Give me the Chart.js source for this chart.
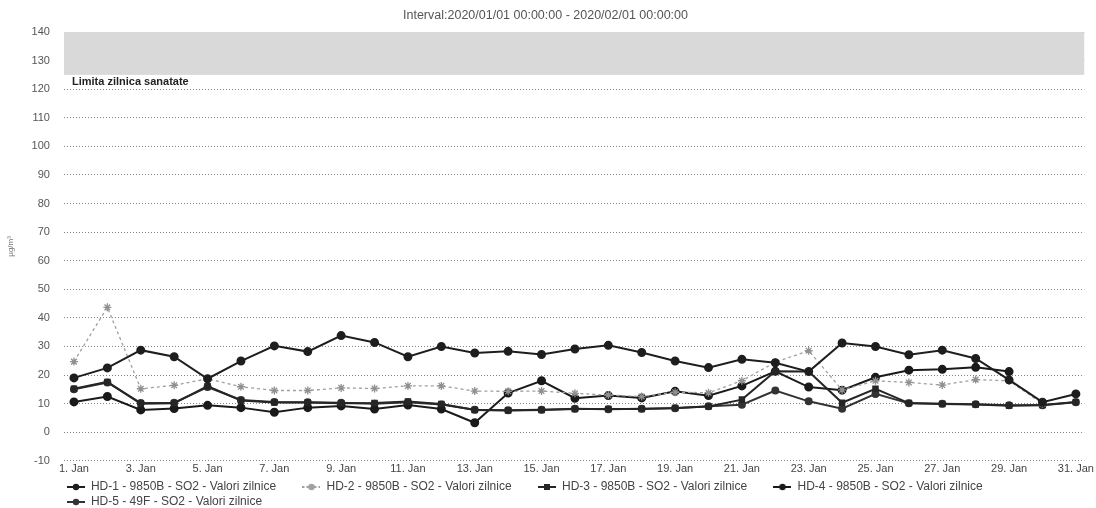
<!DOCTYPE html>
<html>
<head>
<meta charset="utf-8">
<script src="https://cdn.jsdelivr.net/npm/chart.js@4.4.0/dist/chart.umd.min.js"></script>
<style>
  html, body { margin:0; padding:0; background:#fff; }
  #wrap { width:1096px; height:508px; }
</style>
</head>
<body>
<div id="wrap"><canvas id="chart"></canvas></div>
<script>
// days of January 2020
const days = [1,2,3,4,5,6,7,8,9,10,11,12,13,14,15,16,17,18,19,20,21,22,23,24,25,26,27,28,29,30,31];
const tickDays = [1,3,5,7,9,11,13,15,17,19,21,23,25,27,29,31];
const yTicks = [-10,0,10,20,30,40,50,60,70,80,90,100,110,120,130,140];

// SO2 daily values (ug/m3)
const hd1 = [19.0,22.5,28.7,26.4,18.7,24.9,30.2,28.2,33.8,31.4,26.4,30.0,27.7,28.3,27.2,29.1,30.4,27.9,24.9,22.6,25.5,24.3,21.2,31.2,30.0,27.1,28.7,25.8,18.3,10.5,13.4];
const hd2 = [24.7,43.7,15.2,16.4,18.7,15.9,14.6,14.6,15.5,15.3,16.2,16.2,14.4,14.3,14.4,13.6,13.0,12.5,14.0,13.8,18.0,24.5,28.5,14.8,18.0,17.4,16.5,18.4,18.0,10.0,null];
const hd3 = [15.2,17.6,10.0,10.1,16.1,11.1,10.4,10.4,10.1,10.2,10.7,9.9,7.8,7.6,7.8,8.1,8.1,8.1,8.5,9.0,11.4,21.3,21.2,10.3,15.2,10.2,9.9,9.7,9.3,9.5,10.6];
const hd4 = [10.6,12.5,7.8,8.3,9.4,8.6,7.0,8.6,9.2,8.1,9.5,8.1,3.3,13.7,18.0,11.9,12.8,12.0,14.3,12.8,16.2,21.3,15.8,14.7,19.2,21.7,22.0,22.7,21.2,null,null];
const hd5 = [15.0,17.4,10.2,10.3,15.8,11.3,10.6,10.5,10.3,10.0,10.5,9.7,7.9,7.7,7.9,8.2,8.0,8.2,8.4,9.1,9.6,14.6,10.8,8.2,13.4,10.1,10.0,9.8,9.4,9.4,10.5];

const limitLow = 125, limitHigh = 140;
const FONT = '"Liberation Sans", Arial, sans-serif';

const pts = arr => days.map((d, i) => ({ x: d, y: arr[i] }));

// shaded limit band + its caption, drawn through the y scale
const limitBand = {
  id: 'limitBand',
  beforeDatasetsDraw(chart) {
    const { ctx, chartArea, scales } = chart;
    const yTop = scales.y.getPixelForValue(limitHigh);
    const yBot = scales.y.getPixelForValue(limitLow);
    ctx.save();
    ctx.fillStyle = '#d9d9d9';
    ctx.fillRect(chartArea.left, yTop, chartArea.right - chartArea.left, yBot - yTop);
    ctx.fillStyle = '#222';
    ctx.font = 'bold 11px ' + FONT;
    ctx.textBaseline = 'top';
    ctx.fillText('Limita zilnica sanatate', chartArea.left + 8, yBot + 2);
    ctx.restore();
  }
};

// small "line + marker" glyph for the legend
function legendIcon(color, shape, dashed) {
  const c = document.createElement('canvas');
  c.width = 18; c.height = 8;
  const g = c.getContext('2d');
  g.strokeStyle = color; g.fillStyle = color; g.lineWidth = 2;
  if (dashed) g.setLineDash([2, 2]);
  g.beginPath(); g.moveTo(0, 4); g.lineTo(18, 4); g.stroke();
  g.setLineDash([]);
  g.beginPath();
  if (shape === 'rect') g.rect(6, 1, 6, 6);
  else g.arc(9, 4, 3.2, 0, Math.PI * 2);
  g.fill();
  return c;
}

const lineSet = (label, arr, color, style, extra) => Object.assign({
  label: label,
  data: pts(arr),
  borderColor: color,
  backgroundColor: color,
  borderWidth: 2,
  pointStyle: style,
  pointRadius: 3.5,
  pointBackgroundColor: color,
  pointBorderColor: color,
  tension: 0,
  spanGaps: false
}, extra || {});

new Chart(document.getElementById('chart'), {
  type: 'line',
  data: {
    datasets: [
      lineSet('HD-1 - 9850B - SO2 - Valori zilnice', hd1, '#1e1e1e', 'circle'),
      lineSet('HD-2 - 9850B - SO2 - Valori zilnice', hd2, '#a0a0a0', 'star',
        { borderWidth: 1.3, borderDash: [3, 3], pointBackgroundColor: '#c8c8c8', pointBorderColor: '#909090', pointRadius: 4 }),
      lineSet('HD-3 - 9850B - SO2 - Valori zilnice', hd3, '#262626', 'rect', { pointRadius: 3.2 }),
      lineSet('HD-4 - 9850B - SO2 - Valori zilnice', hd4, '#1a1a1a', 'circle'),
      lineSet('HD-5 - 49F - SO2 - Valori zilnice', hd5, '#333333', 'circle', { pointRadius: 3 })
    ]
  },
  options: {
    responsive: true,
    maintainAspectRatio: false,
    animation: false,
    layout: { padding: { left: 6, right: 11, top: 2, bottom: -10 } },
    plugins: {
      title: {
        display: true,
        text: 'Interval:2020/01/01 00:00:00 - 2020/02/01 00:00:00',
        color: '#555',
        font: { family: FONT, size: 12.5, weight: 'normal' },
        padding: { top: 6, bottom: 9 }
      },
      legend: {
        position: 'bottom',
        align: 'start',
        fullSize: false,
        labels: {
          color: '#444',
          font: { family: FONT, size: 12 },
          usePointStyle: true,
          pointStyleWidth: 18,
          boxHeight: 8,
          padding: 3,
          generateLabels(chart) {
            const items = Chart.defaults.plugins.legend.labels.generateLabels(chart);
            const icons = [
              legendIcon('#1e1e1e', 'circle', false),
              legendIcon('#a0a0a0', 'circle', true),
              legendIcon('#262626', 'rect', false),
              legendIcon('#1a1a1a', 'circle', false),
              legendIcon('#333333', 'circle', false)
            ];
            items.forEach((it, i) => {
              it.text = it.text + '       ';
              it.pointStyle = icons[i];
            });
            return items;
          }
        }
      },
      tooltip: { enabled: false }
    },
    scales: {
      x: {
        type: 'linear',
        min: 0.7,
        max: 31.25,
        afterBuildTicks(axis) { axis.ticks = tickDays.map(v => ({ value: v })); },
        ticks: {
          autoSkip: false,
          maxRotation: 0,
          padding: 2,
          color: '#444',
          font: { family: FONT, size: 11 },
          callback: v => v + '. Jan'
        },
        grid: { display: false, drawTicks: false },
        border: { display: false }
      },
      y: {
        min: -10,
        max: 140,
        afterBuildTicks(axis) { axis.ticks = yTicks.map(v => ({ value: v })); },
        ticks: {
          color: '#555',
          padding: 14,
          font: { family: FONT, size: 11 }
        },
        grid: {
          color: '#666',
          lineWidth: 0.8,
          drawTicks: false
        },
        border: { display: false, dash: [1, 2] },
        title: {
          display: true,
          text: 'µg/m³',
          color: '#777',
          font: { family: FONT, size: 8 },
          padding: { top: 0, bottom: 2 }
        }
      }
    }
  },
  plugins: [limitBand]
});
</script>
</body>
</html>
